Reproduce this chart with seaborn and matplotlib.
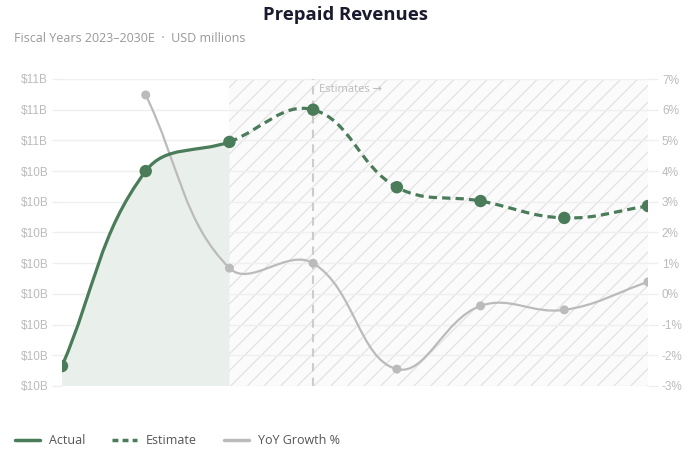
import numpy as np
import pandas as pd
import matplotlib
matplotlib.use("Agg")
import matplotlib.pyplot as plt
from matplotlib.path import Path
from matplotlib.patches import PathPatch
from matplotlib.lines import Line2D
from matplotlib.ticker import FuncFormatter
import seaborn as sns

# ---- data (USD millions / percent) ----
years = ["2023", "2024", "2025", "2026E", "2027E", "2028E", "2029E", "2030E"]
revenue = [9952, 10460, 10536, 10620, 10418, 10382, 10338, 10369]
n_actual = 3  # 2023-2025 reported, rest estimated
yoy_growth = [np.nan, 6.48, 0.84, 1.00, -2.45, -0.39, -0.52, 0.39]
rev_ticks = list(np.linspace(9900, 10700, 11))
pct_ticks = list(range(-3, 8))

GREEN = "#4a7c59"
GRAY = "#bbbbbb"
GRID = "#efefef"
TICK = "#bbbbbb"

sns.set_theme(style="white")
plt.rcParams["font.family"] = ["Liberation Sans", "DejaVu Sans"]
plt.rcParams["hatch.linewidth"] = 0.9

fig = plt.figure(figsize=(6.91, 4.53), dpi=100)
W, H = 691, 453
ax2 = fig.add_axes([62 / W, 1 - 386 / H, (648 - 62) / W, (386 - 79) / H])
ax = ax2.twinx()
ax.set_zorder(ax2.get_zorder() + 1)
ax.patch.set_visible(False)

x = np.arange(len(years))
ax.set_xlim(0, len(years) - 1)
ax2.set_xlim(0, len(years) - 1)
ax.set_ylim(rev_ticks[0], rev_ticks[-1])
ax2.set_ylim(pct_ticks[0], pct_ticks[-1])
# left axis: revenue, right axis: growth
ax.yaxis.tick_left()
ax.yaxis.set_label_position("left")
ax2.yaxis.tick_right()
ax.set_yticks(rev_ticks)
ax2.set_yticks(pct_ticks)
ax.yaxis.set_major_formatter(FuncFormatter(lambda v, p: f"${v / 1000:.0f}B"))
ax2.yaxis.set_major_formatter(FuncFormatter(lambda v, p: f"{v:.0f}%"))
ax2.set_xticks(x)
ax2.set_xticklabels(years)
ax.set_xticks([])
for a in (ax, ax2):
    for s in a.spines.values():
        s.set_visible(False)
ax.tick_params(axis="y", left=True, length=7, width=1, color=GRID, pad=3,
               labelsize=8.5, labelcolor=TICK)
ax2.tick_params(axis="y", right=True, length=7, width=1, color=GRID, pad=3,
                labelsize=8.5, labelcolor=TICK)
ax2.tick_params(axis="x", bottom=False, pad=9, labelsize=8.8, labelcolor="#444444")
for lbl in ax2.get_xticklabels():
    lbl.set_fontweight("bold")
ax2.grid(axis="y", color=GRID, linewidth=1)
ax2.grid(axis="x", visible=False)
ax.grid(False)


def spline_verts(trans, xs, ys, tension=0.4):
    """Cardinal-style bezier through points, computed in display space."""
    pts = trans.transform(np.column_stack([xs, ys]))
    bb = ax.bbox
    n = len(pts)
    cps = []
    for i in range(n):
        p1 = pts[i]
        p0 = pts[i - 1] if i > 0 else p1
        p2 = pts[i + 1] if i < n - 1 else p1
        d01 = np.hypot(*(p1 - p0))
        d12 = np.hypot(*(p2 - p1))
        tot = d01 + d12
        s01 = d01 / tot if tot else 0.0
        s12 = d12 / tot if tot else 0.0
        prev_cp = p1 - tension * s01 * (p2 - p0)
        next_cp = p1 + tension * s12 * (p2 - p0)
        prev_cp = np.clip(prev_cp, [bb.x0, bb.y0], [bb.x1, bb.y1])
        next_cp = np.clip(next_cp, [bb.x0, bb.y0], [bb.x1, bb.y1])
        cps.append((prev_cp, next_cp))
    verts = [pts[0]]
    codes = [Path.MOVETO]
    for i in range(1, n):
        verts += [cps[i - 1][1], cps[i][0], pts[i]]
        codes += [Path.CURVE4] * 3
    return np.array(verts), codes


def to_path(target_ax, verts, codes):
    return Path(target_ax.transData.inverted().transform(verts), codes)


# estimate zone: hatched band and divider
ax2.axvspan(n_actual - 1, len(years) - 1, facecolor="#fbfbfb", edgecolor="#e2e2e2",
            hatch="//", linewidth=0, zorder=0)
ax2.axvline(n_actual, color="#cccccc", linestyle=(0, (4, 3)), linewidth=1.5, zorder=1)
ax2.text(n_actual + 0.07, 6.65, "Estimates →", color="#bbbbbb", fontsize=8,
         ha="left", va="center", family=["Open Sans", "DejaVu Sans"])

# actual revenue with shaded area underneath
xa = x[:n_actual]
ya = revenue[:n_actual]
v_act, c_act = spline_verts(ax.transData, xa, ya)
bottom = ax.transData.transform([[xa[-1], rev_ticks[0]], [xa[0], rev_ticks[0]]])
fill_verts = np.vstack([v_act, bottom, v_act[:1]])
fill_codes = c_act + [Path.LINETO, Path.LINETO, Path.CLOSEPOLY]
ax2.add_patch(PathPatch(to_path(ax2, fill_verts, fill_codes), facecolor="#e9efeb",
                        edgecolor="none", zorder=1))

# growth line (right axis)
yy = np.array(yoy_growth, dtype=float)
mask = ~np.isnan(yy)
v_yoy, c_yoy = spline_verts(ax2.transData, x[mask], yy[mask])
ax2.add_patch(PathPatch(to_path(ax2, v_yoy, c_yoy), facecolor="none", edgecolor=GRAY,
                        linewidth=1.6, zorder=3))
yoy_df = pd.DataFrame({"x": x[mask], "g": yy[mask]})
sns.scatterplot(data=yoy_df, x="x", y="g", ax=ax2, color=GRAY, s=42,
                edgecolor="none", zorder=4, legend=False)

# revenue lines
ax.add_patch(PathPatch(to_path(ax, v_act, c_act), facecolor="none", edgecolor=GREEN,
                       linewidth=2.3, zorder=5, capstyle="round"))
xe = x[n_actual - 1:]
ye = revenue[n_actual - 1:]
v_est, c_est = spline_verts(ax.transData, xe, ye)
ax.add_patch(PathPatch(to_path(ax, v_est, c_est), facecolor="none", edgecolor=GREEN,
                       linewidth=2.3, linestyle=(0, (2.6, 1.6)), zorder=5))
rev_df = pd.DataFrame({"x": x, "rev": revenue})
sns.scatterplot(data=rev_df, x="x", y="rev", ax=ax, color=GREEN, s=80,
                edgecolor="none", zorder=6, legend=False)
ax.set_xlabel("")
ax.set_ylabel("")
ax2.set_xlabel("")
ax2.set_ylabel("")

# titles
fig.text(0.5, 1 - 15 / H, "Prepaid Revenues", ha="center", va="center",
         fontsize=13.3, fontweight="bold", color="#1a1a2e",
         family=["Open Sans", "DejaVu Sans"])
fig.text(14 / W, 1 - 38 / H, "Fiscal Years 2023–2030E  ·  USD millions", ha="left",
         va="center", fontsize=9.0, color="#999999", family=["Open Sans", "DejaVu Sans"])

# legend
handles = [
    Line2D([], [], color=GREEN, linewidth=2.5),
    Line2D([], [], color=GREEN, linewidth=2.5, linestyle=(0, (1.7, 1.2))),
    Line2D([], [], color=GRAY, linewidth=2.5),
]
leg = fig.legend(handles, ["Actual", "Estimate", "YoY Growth %"], loc="center left",
                 bbox_to_anchor=(4 / W, 1 - 441 / H), ncol=3, frameon=False,
                 handlelength=2.0, handletextpad=0.7, columnspacing=2.15,
                 prop={"family": ["Open Sans", "DejaVu Sans"], "size": 9})
for t in leg.get_texts():
    t.set_color("#555555")

fig.savefig("out.png", dpi=100)
